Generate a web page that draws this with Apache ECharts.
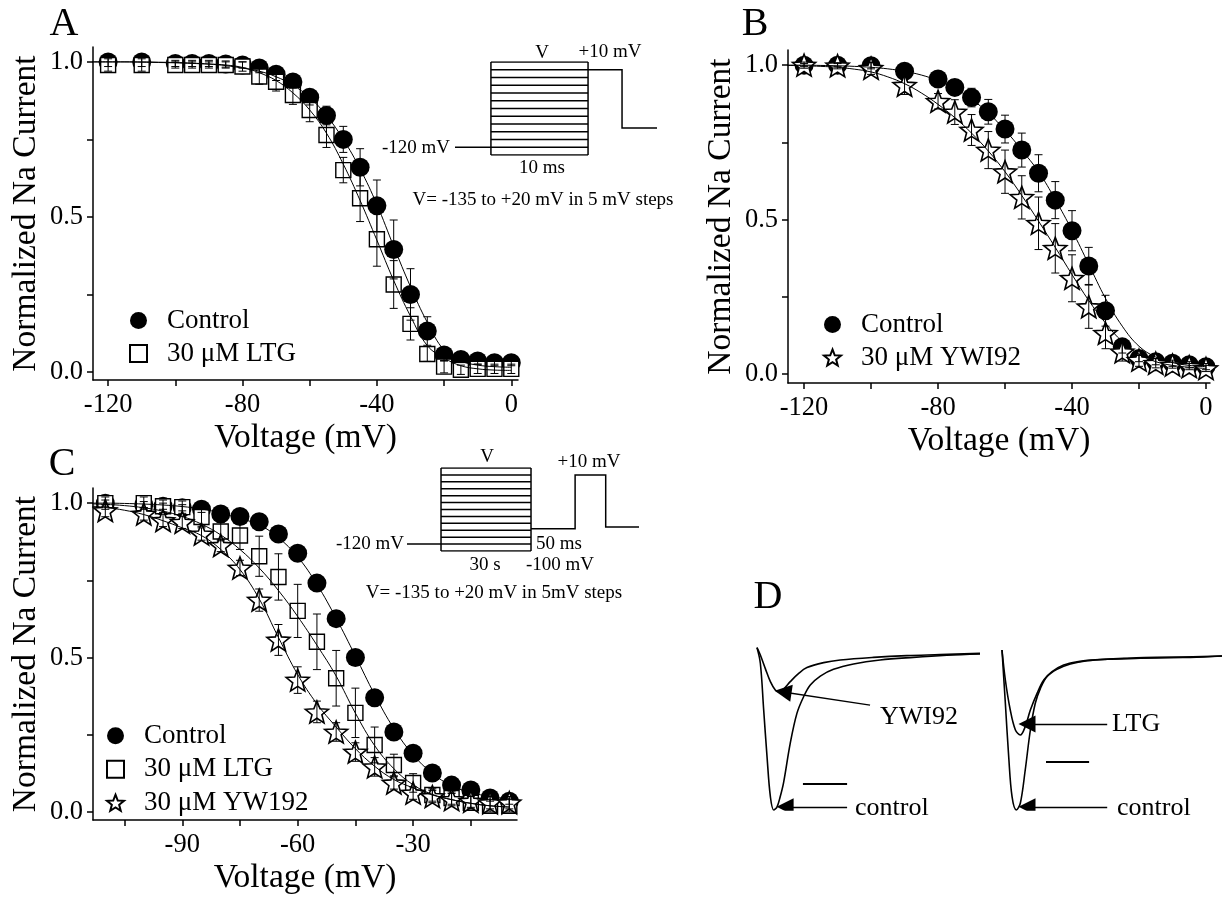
<!DOCTYPE html>
<html><head><meta charset="utf-8">
<script src="https://cdn.jsdelivr.net/npm/echarts@6/dist/echarts.min.js"></script>
<style>html,body{margin:0;padding:0;background:#fff}#c{width:1222px;height:898px}</style>
</head><body><div id="c"></div><script>
// ---------------- DATA ----------------
// Panel A
const voltA = [-120,-110,-100,-95,-90,-85,-80,-75,-70,-65,-60,-55,-50,-45,-40,-35,-30,-25,-20,-15,-10,-5,0];
const ctrlA = [1.0,1.0,0.995,0.995,0.995,0.993,0.99,0.98,0.96,0.935,0.886,0.827,0.75,0.66,0.536,0.395,0.25,0.132,0.055,0.04,0.035,0.03,0.03];
const ctrlA_err = [0.015,0.015,0.01,0.01,0.01,0.01,0.01,0.015,0.02,0.02,0.025,0.03,0.042,0.06,0.083,0.095,0.083,0.046,0.02,0.01,0.01,0.01,0.01];
const ltgA = [0.99,0.99,0.99,0.99,0.99,0.99,0.985,0.953,0.936,0.893,0.845,0.764,0.651,0.56,0.428,0.282,0.155,0.058,0.017,0.007,0.01,0.01,0.01];
const ltgA_err = [0.02,0.02,0.01,0.01,0.01,0.01,0.015,0.025,0.03,0.03,0.038,0.04,0.041,0.075,0.087,0.077,0.052,0.024,0.02,0.015,0.015,0.015,0.015];
const fitVoltA = [-125,-120,-115,-110,-105,-100,-95,-90,-85,-80,-75,-70,-65,-60,-55,-50,-45,-40,-35,-30,-25,-20,-15,-10,-5,0];
const fitCtrlA = [1.0,1.0,1.0,1.0,0.999,0.998,0.996,0.993,0.988,0.98,0.97,0.952,0.925,0.885,0.827,0.75,0.655,0.54,0.405,0.275,0.16,0.07,0.035,0.022,0.017,0.015];
const fitLtgA = [1.0,1.0,1.0,0.999,0.998,0.997,0.995,0.993,0.99,0.982,0.965,0.94,0.9,0.845,0.77,0.67,0.553,0.425,0.295,0.18,0.085,0.045,0.02,0.01,0.006,0.005];
// Panel B
const voltB = [-120,-110,-100,-90,-80,-75,-70,-65,-60,-55,-50,-45,-40,-35,-30,-25,-20,-15,-10,-5,0];
const ctrlB = [1.0,1.0,0.998,0.98,0.955,0.928,0.895,0.849,0.793,0.725,0.65,0.563,0.464,0.35,0.205,0.088,0.05,0.04,0.035,0.03,0.024];
const ctrlB_err = [0.005,0.005,0.01,0.01,0.02,0.025,0.03,0.04,0.045,0.055,0.06,0.06,0.065,0.06,0.05,0.02,0.01,0.01,0.01,0.01,0.01];
const ywiB = [1.0,0.998,0.99,0.935,0.883,0.848,0.79,0.725,0.655,0.572,0.488,0.407,0.31,0.218,0.132,0.072,0.045,0.035,0.029,0.024,0.018];
const ywiB_err = [0.01,0.01,0.02,0.03,0.025,0.04,0.05,0.06,0.07,0.07,0.085,0.08,0.076,0.07,0.05,0.03,0.02,0.015,0.01,0.01,0.01];
const fitVoltB = [-125,-120,-115,-110,-105,-100,-95,-90,-85,-80,-75,-70,-65,-60,-55,-50,-45,-40,-35,-30,-25,-20,-15,-10,-5,0];
const fitCtrlB = [1.0,1.0,0.999,0.998,0.996,0.993,0.988,0.98,0.968,0.95,0.925,0.89,0.845,0.79,0.725,0.655,0.565,0.465,0.355,0.245,0.155,0.09,0.055,0.037,0.028,0.024];
const fitYwiB = [0.999,0.998,0.996,0.993,0.987,0.978,0.962,0.94,0.91,0.873,0.83,0.78,0.722,0.655,0.578,0.495,0.41,0.322,0.238,0.165,0.105,0.064,0.04,0.028,0.022,0.018];
// Panel C
const voltC = [-110,-100,-95,-90,-85,-80,-75,-70,-65,-60,-55,-50,-45,-40,-35,-30,-25,-20,-15,-10,-5];
const ctrlC = [1.0,0.995,0.99,0.985,0.98,0.965,0.957,0.94,0.9,0.838,0.741,0.626,0.5,0.37,0.259,0.19,0.126,0.087,0.071,0.045,0.035];
const ctrlC_err = [0.01,0.01,0.01,0.01,0.01,0.01,0.01,0.01,0.01,0.01,0.01,0.01,0.01,0.01,0.01,0.01,0.01,0.01,0.01,0.01,0.01];
const ltgC = [1.0,1.0,0.99,0.987,0.955,0.908,0.895,0.828,0.761,0.651,0.551,0.433,0.321,0.217,0.152,0.094,0.055,0.045,0.03,0.02,0.02];
const ltgC_err = [0.02,0.02,0.02,0.02,0.03,0.03,0.045,0.065,0.075,0.086,0.09,0.09,0.08,0.058,0.035,0.03,0.02,0.02,0.02,0.02,0.02];
const ywC = [0.976,0.965,0.944,0.938,0.9,0.863,0.79,0.686,0.557,0.427,0.324,0.259,0.194,0.146,0.094,0.061,0.05,0.04,0.035,0.03,0.03];
const ywC_err = [0.02,0.02,0.02,0.02,0.02,0.02,0.025,0.036,0.05,0.043,0.035,0.03,0.03,0.03,0.02,0.02,0.02,0.02,0.02,0.02,0.02];
const fitVoltC = [-115,-110,-105,-100,-95,-90,-85,-80,-75,-70,-65,-60,-55,-50,-45,-40,-35,-30,-25,-20,-15,-10,-5];
const fitCtrlC = [1.0,1.0,0.999,0.997,0.994,0.989,0.981,0.968,0.95,0.93,0.888,0.826,0.737,0.627,0.505,0.38,0.27,0.185,0.125,0.085,0.063,0.05,0.042];
const fitLtgC = [0.998,0.996,0.992,0.985,0.974,0.957,0.932,0.897,0.85,0.79,0.717,0.633,0.54,0.44,0.32,0.215,0.14,0.088,0.057,0.04,0.028,0.02,0.016];
const fitYwC = [0.992,0.986,0.977,0.963,0.943,0.92,0.895,0.85,0.785,0.69,0.565,0.445,0.35,0.275,0.205,0.148,0.105,0.078,0.055,0.04,0.028,0.02,0.016];
// Axis ticks / labels
const ticksAB = [-120,-100,-80,-60,-40,-20,0];
const labelsAB = [-120,-80,-40,0];
const ticksC = [-105,-90,-75,-60,-45,-30,-15];
const labelsC = [-90,-60,-30];
const ticksY = [0,0.25,0.5,0.75,1.0];
const labelsY = [0,0.5,1.0];
// Voltage protocols (schematic: time units, step level index)
const protoA_levels = [0,1,2,3,4,5,6,7,8,9,10,11,12];
const protoA_box = [0,10];
const protoA_hold = [[-3.7,1],[0,1]];
const protoA_test = [[10,11],[13.5,11],[13.5,3.5],[17.1,3.5]];
const protoC_levels = [0,1,2,3,4,5,6,7,8,9,10,11,12];
const protoC_box = [0,10];
const protoC_hold = [[-3.78,1],[0,1]];
const protoC_test = [[10,3.2],[14.9,3.2],[14.9,11],[18.3,11],[18.3,3.47],[22,3.47]];
// Panel D current traces (time ms, normalized current)
const tL_ctrl = [0,0.15,0.3,0.45,0.6,0.75,0.9,1.04,1.19,1.49,1.79,2.09,2.39,2.84,3.43,4.33,5.52,7.01,8.51,10];
const iL_ctrl = [0.015,-0.083,-0.375,-0.667,-0.917,-1.0,-0.98,-0.917,-0.83,-0.583,-0.396,-0.292,-0.219,-0.163,-0.121,-0.0875,-0.0625,-0.046,-0.033,-0.025];
const tL_ywi = [0,0.15,0.37,0.6,0.82,0.97,1.19,1.49,1.87,2.24,2.99,3.73,5.22,6.72,8.21,10];
const iL_ywi = [0.015,-0.031,-0.115,-0.198,-0.25,-0.26,-0.244,-0.198,-0.146,-0.11,-0.079,-0.0625,-0.046,-0.035,-0.029,-0.021];
const tR_ctrl = [0,0.15,0.3,0.45,0.64,0.82,1.04,1.27,1.49,1.72,2.01,2.46,3.06,3.81,4.7,6.19,7.69,9.85];
const iR_ctrl = [0,-0.333,-0.667,-0.917,-1.0,-0.958,-0.75,-0.5,-0.333,-0.24,-0.167,-0.121,-0.0875,-0.067,-0.058,-0.052,-0.046,-0.0375];
const tR_ltg = [0,0.15,0.37,0.6,0.82,1.04,1.27,1.57,1.87,2.24,2.76,3.36,4.1,5.45,6.94,8.43,9.85];
const iR_ltg = [0,-0.1875,-0.375,-0.5,-0.531,-0.479,-0.375,-0.271,-0.1875,-0.135,-0.094,-0.073,-0.0625,-0.052,-0.046,-0.046,-0.0375];
const scaleBarL = [[2.06,-0.8375],[4.04,-0.8375]];
const scaleBarR = [[1.97,-0.7],[3.9,-0.7]];
const arrowL_ywi = [[5.07,-0.344],[1.17,-0.2625]];
const arrowL_ctrl = [[4.04,-0.98],[1.26,-0.98]];
const arrowR_ltg = [[4.71,-0.4625],[1.12,-0.4625]];
const arrowR_ctrl = [[4.71,-0.98],[1.12,-0.98]];

// ---------------- BUILD ----------------
const F = 'Liberation Serif';
const zip = (a,b) => a.map((v,i)=>[v,b[i]]);
const zip3 = (a,b,c) => a.map((v,i)=>[v,b[i],c[i]]);
function starPath(){
  const p=[];
  for(let i=0;i<10;i++){const r=i%2?4.3:10;const a=-Math.PI/2+i*Math.PI/5;p.push((10+r*Math.cos(a)).toFixed(2)+','+(10+r*Math.sin(a)).toFixed(2));}
  return 'path://M'+p.join('L')+'Z';
}
const STAR = starPath();
const CIRC = {symbol:'circle', symbolSize:19, itemStyle:{color:'#000', opacity:1}};
const SQR = {symbol:'rect', symbolSize:15, itemStyle:{color:'#fff', borderColor:'#000', borderWidth:1.4, opacity:1}};
const STR = {symbol:STAR, symbolSize:23, symbolKeepAspect:true, itemStyle:{color:'#fff', borderColor:'#000', borderWidth:1.6, opacity:1}};

function scat(name, g, x, y, sty, z){
  return {type:'scatter', name, xAxisIndex:g, yAxisIndex:g, data:zip(x,y), z:z, silent:true,
    symbol:sty.symbol, symbolSize:sty.symbolSize, symbolKeepAspect:!!sty.symbolKeepAspect,
    itemStyle:Object.assign({}, sty.itemStyle)};
}
function errs(g, x, y, e){
  return {type:'custom', xAxisIndex:g, yAxisIndex:g, data:zip3(x,y,e), z:6, silent:true,
    renderItem:(params, api)=>{
      const xv=api.value(0), yv=api.value(1), ev=api.value(2);
      const p1=api.coord([xv,yv+ev]), p2=api.coord([xv,yv-ev]);
      const cw=4, st={stroke:'#000', lineWidth:1};
      return {type:'group', children:[
        {type:'line', shape:{x1:p1[0],y1:p1[1],x2:p2[0],y2:p2[1]}, style:st},
        {type:'line', shape:{x1:p1[0]-cw,y1:p1[1],x2:p1[0]+cw,y2:p1[1]}, style:st},
        {type:'line', shape:{x1:p2[0]-cw,y1:p2[1],x2:p2[0]+cw,y2:p2[1]}, style:st}
      ]};
    }};
}
function fit(g, x, y){
  return {type:'line', xAxisIndex:g, yAxisIndex:g, data:zip(x,y), smooth:0.4, symbol:'none', z:7, silent:true,
    lineStyle:{color:'#000', width:1}};
}
function segs(g, list, extra){
  return Object.assign({type:'lines', coordinateSystem:'cartesian2d', xAxisIndex:g, yAxisIndex:g, polyline:true, silent:true, z:5,
    data:list.map(c=>({coords:c})), lineStyle:{color:'#000', width:1.5, opacity:1}}, extra||{});
}
function trace(g, t, i){
  return {type:'line', xAxisIndex:g, yAxisIndex:g, data:zip(t,i), smooth:0.35, symbol:'none', clip:false, silent:true,
    lineStyle:{color:'#000', width:1.6}};
}

function xAx(g, min, max, ticks, labels){
  return {type:'value', gridIndex:g, min, max, name:'Voltage (mV)', nameLocation:'middle', nameGap:41,
    nameTextStyle:{fontSize:33.5, fontFamily:F, color:'#000'},
    axisLine:{onZero:false, lineStyle:{color:'#000', width:1.5}},
    axisTick:{customValues:ticks, length:6, lineStyle:{color:'#000', width:1.5}},
    axisLabel:{customValues:labels, fontSize:26.5, fontFamily:F, color:'#000', margin:12},
    splitLine:{show:false}};
}
function yAx(g, min, max){
  return {type:'value', gridIndex:g, min, max, name:'Normalized Na Current', nameLocation:'middle', nameGap:50,
    nameTextStyle:{fontSize:33.5, fontFamily:F, color:'#000'},
    axisLine:{onZero:false, lineStyle:{color:'#000', width:1.5}},
    axisTick:{customValues:ticksY, length:6, lineStyle:{color:'#000', width:1.5}},
    axisLabel:{customValues:labelsY, fontSize:26.5, fontFamily:F, color:'#000', margin:10, formatter:v=>v.toFixed(1)},
    splitLine:{show:false}};
}
function hidX(g,min,max){return {type:'value', gridIndex:g, min, max, show:false, splitLine:{show:false}};}

const grid = [
  {left:93, top:47, width:425, height:333},   // 0 A
  {left:788, top:50, width:422, height:333},  // 1 B
  {left:93, top:488, width:424, height:332},  // 2 C
  {left:455, top:62, width:202, height:93},   // 3 inset A
  {left:407, top:468, width:232, height:83},  // 4 inset C
  {left:757, top:642, width:223, height:168}, // 5 D left
  {left:1002, top:642, width:220, height:168} // 6 D right
];
const xAxis = [
  xAx(0,-124.5,2,ticksAB,labelsAB),
  xAx(1,-124.8,1.2,ticksAB,labelsAB),
  xAx(2,-113.2,-3,ticksC,labelsC),
  hidX(3,-3.7,17.1), hidX(4,-3.78,22), hidX(5,0,10), hidX(6,0,9.85)
];
const yAxis = [
  yAx(0,-0.026,1.048), yAx(1,-0.029,1.049), yAx(2,-0.026,1.049),
  hidX(3,0,12), hidX(4,0,12), hidX(5,-1.0,0.05), hidX(6,-1.0,0.05)
];

const protoSegs = (levels, box, hold, test) => [
  ...levels.map(l=>[[box[0],l],[box[1],l]]),
  [[box[0],levels[0]],[box[0],levels[levels.length-1]]],
  [[box[1],levels[0]],[box[1],levels[levels.length-1]]],
  hold, test];

const arrowStyle = {polyline:false, symbol:['none','triangle'], symbolSize:[13,17], lineStyle:{color:'#000',width:1.3,opacity:1}};
const series = [
  scat('Control',0,voltA,ctrlA,CIRC,2),
  scat('30 μM LTG',0,voltA,ltgA,SQR,3),
  errs(0,voltA,ctrlA,ctrlA_err), errs(0,voltA,ltgA,ltgA_err),
  fit(0,fitVoltA,fitCtrlA), fit(0,fitVoltA,fitLtgA),

  scat('Control',1,voltB,ctrlB,CIRC,2),
  scat('30 μM YWI92',1,voltB,ywiB,STR,3),
  errs(1,voltB,ctrlB,ctrlB_err), errs(1,voltB,ywiB,ywiB_err),
  fit(1,fitVoltB,fitCtrlB), fit(1,fitVoltB,fitYwiB),

  scat('Control',2,voltC,ctrlC,CIRC,2),
  scat('30 μM LTG',2,voltC,ltgC,SQR,3),
  scat('30 μM YW192',2,voltC,ywC,STR,4),
  errs(2,voltC,ctrlC,ctrlC_err), errs(2,voltC,ltgC,ltgC_err), errs(2,voltC,ywC,ywC_err),
  fit(2,fitVoltC,fitCtrlC), fit(2,fitVoltC,fitLtgC), fit(2,fitVoltC,fitYwC),

  segs(3, protoSegs(protoA_levels, protoA_box, protoA_hold, protoA_test)),
  segs(4, protoSegs(protoC_levels, protoC_box, protoC_hold, protoC_test)),

  trace(5,tL_ctrl,iL_ctrl), trace(5,tL_ywi,iL_ywi),
  trace(6,tR_ctrl,iR_ctrl), trace(6,tR_ltg,iR_ltg),
  segs(5,[scaleBarL],{lineStyle:{color:'#000',width:2,opacity:1}}),
  segs(6,[scaleBarR],{lineStyle:{color:'#000',width:2,opacity:1}}),
  segs(5,[arrowL_ywi,arrowL_ctrl],arrowStyle),
  segs(6,[arrowR_ltg,arrowR_ctrl],arrowStyle)
];

const legTxt = (lh)=>({fontSize:27, fontFamily:F, color:'#000', lineHeight:lh, padding:[0,0,0,15]});
const legend = [
  {data:['Control','30 μM LTG'], left:124, top:299, orient:'vertical', itemWidth:17, itemHeight:17, itemGap:0, selectedMode:false, textStyle:legTxt(33)},
  {data:['Control','30 μM YWI92'], left:818, top:303, orient:'vertical', itemWidth:17, itemHeight:17, itemGap:0, selectedMode:false, textStyle:legTxt(33)},
  {data:['Control','30 μM LTG','30 μM YW192'], left:101, top:714, orient:'vertical', itemWidth:17, itemHeight:17, itemGap:0, selectedMode:false, textStyle:legTxt(33.5)}
];

const T = (text,x,y,size,align)=>({type:'text', x, y, silent:true, style:{text, fontSize:size, fontFamily:F, fill:'#000', align:align||'center', verticalAlign:'middle'}});
const graphic = [
  T('A',64,24,40), T('B',755,24,40), T('C',62,464,40), T('D',768,597,40),
  T('V',542,53,19), T('+10 mV',610,52,19), T('-120 mV',450,148,19,'right'), T('10 ms',542,168,19),
  T('V= -135 to +20 mV in 5 mV steps',543,200,19),
  T('V',487,457,19), T('+10 mV',589,462,19), T('-120 mV',404,544,19,'right'), T('50 ms',536,544,19,'left'),
  T('30 s',485,565,19), T('-100 mV',526,565,19,'left'), T('V= -135 to +20 mV in 5mV steps',494,593,19),
  T('YWI92',880,717,26,'left'), T('control',855,808,26,'left'),
  T('LTG',1112,724,26,'left'), T('control',1117,808,26,'left')
];

const chart = echarts.init(document.getElementById('c'), null, {renderer:'canvas'});
chart.setOption({backgroundColor:'#fff', animation:false, grid, xAxis, yAxis, series, legend, graphic});
</script></body></html>
